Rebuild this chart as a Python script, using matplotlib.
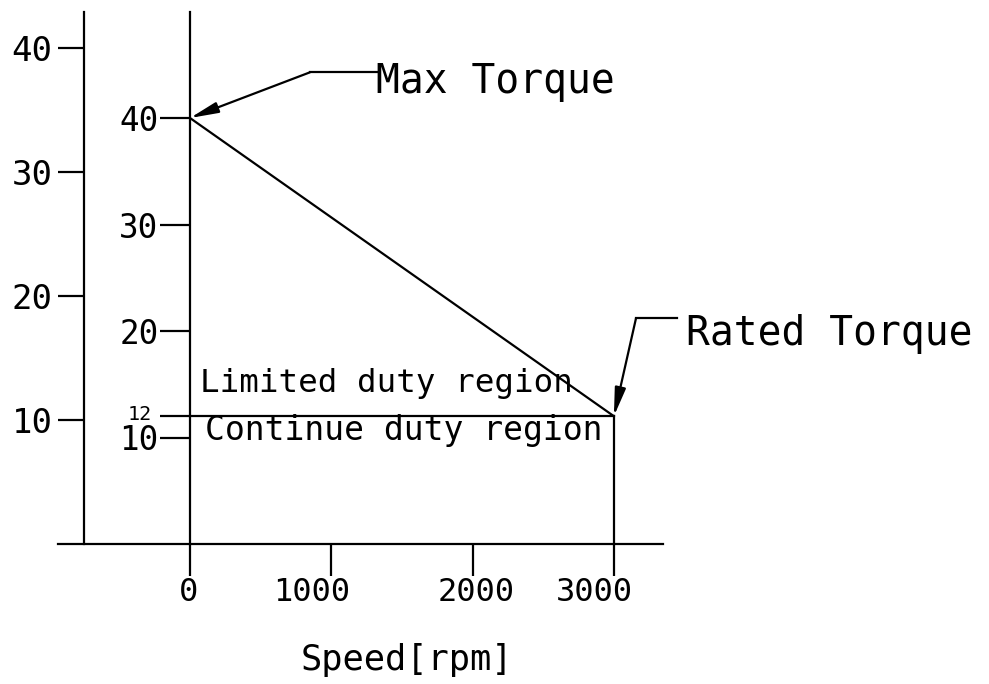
import matplotlib
matplotlib.use("Agg")
import matplotlib.pyplot as plt
from matplotlib.transforms import ScaledTranslation

# ---- data ----
speed_curve = [0, 3000]          # rpm
torque_curve = [40, 12]          # limited-duty boundary
rated_speed = 3000
rated_torque = 12
inner_yticks = [10, 12, 20, 30, 40]
inner_ylabels = ["10", "", "20", "30", "40"]
outer_yticks = [10, 20, 30, 40]
xticks = [0, 1000, 2000, 3000]
xlabels = ["0", "1000", "2000", "3000"]
outer_scale = 12.4 / 10.65       # outer axis unit expressed in inner units

FONT = "DejaVu Sans Mono"
LW = 1.6

fig = plt.figure(figsize=(9.89, 6.84), dpi=100)
ax = fig.add_axes([0, 0, 1, 1])
fig.patch.set_facecolor("white")
ax.set_facecolor("white")

# pixel-to-data mapping (1000 rpm = 141.3 px, 1 unit = 10.65 px)
px_x = 0.1413
px_y = 10.65
ax.set_xlim(-190 / px_x, (989 - 190) / px_x)
ax.set_ylim((544 - 684) / px_y, 544 / px_y)

# spines
for s in ("top", "right"):
    ax.spines[s].set_visible(False)
ax.spines["left"].set_position(("data", 0))
ax.spines["bottom"].set_position(("data", 0))
ax.spines["left"].set_bounds(0, (544 - 12) / px_y)
ax.spines["bottom"].set_bounds((58 - 190) / px_x, (663 - 190) / px_x)
for s in ("left", "bottom"):
    ax.spines[s].set_linewidth(LW)

# ticks
ax.set_yticks(inner_yticks, inner_ylabels)
ax.set_xticks(xticks, xlabels)
ax.tick_params(axis="y", direction="out", length=21.6, width=LW, pad=1,
               labelsize=23.5)
ax.tick_params(axis="x", direction="out", length=23, width=LW, pad=1,
               labelsize=23)
for lab in ax.get_yticklabels() + ax.get_xticklabels():
    lab.set_fontfamily(FONT)

x_shift_px = [-2, -20, 4, -20]
for lab, dx in zip(ax.get_xticklabels(), x_shift_px):
    lab.set_transform(lab.get_transform() + ScaledTranslation(dx / 100, 0, fig.dpi_scale_trans))

ax.annotate("12", xy=(0, 12), xytext=(-27.4, 1.5), textcoords="offset points",
            ha="right", va="center", fontsize=14.5, family=FONT)

# outer (secondary) torque axis
sec = ax.secondary_yaxis(84 / 989, functions=(lambda y: y / outer_scale,
                                              lambda v: v * outer_scale))
sec.set_yticks(outer_yticks)
sec.tick_params(direction="out", length=18.7, width=LW, pad=4, labelsize=24.5)
sec.spines["left"].set_linewidth(LW)
sec.spines["left"].set_bounds(0, (544.5 - 12) / 12.4)
for lab in sec.get_yticklabels():
    lab.set_fontfamily(FONT)

# curves
ax.plot(speed_curve, torque_curve, color="black", lw=LW, solid_capstyle="butt")
ax.plot([0, rated_speed], [rated_torque, rated_torque], color="black", lw=LW)
ax.plot([rated_speed, rated_speed], [0, rated_torque], color="black", lw=LW)

# region labels
ax.text((200 - 190) / px_x, (544 - 392) / px_y, "Limited duty region",
        family=FONT, fontsize=23.4, ha="left", va="baseline")
ax.text((205 - 190) / px_x, (544 - 440) / px_y, "Continue duty region",
        family=FONT, fontsize=23.8, ha="left", va="baseline")

arrow = dict(arrowstyle="-|>,head_length=1.7,head_width=0.33",
             color="black", lw=LW, shrinkA=0, shrinkB=0)

# Max Torque leader
knee1 = ((310 - 190) / px_x, (544 - 72.3) / px_y)
end1 = ((378 - 190) / px_x, knee1[1])
ax.plot([knee1[0], end1[0]], [knee1[1], knee1[1]], color="black", lw=LW)
ax.annotate("", xy=(speed_curve[0], torque_curve[0]), xytext=knee1,
            arrowprops=arrow)
ax.text((376 - 190) / px_x, (544 - 93) / px_y, "Max Torque", family=FONT,
        fontsize=28.5, ha="left", va="baseline")

# Rated Torque leader
knee2 = ((636 - 190) / px_x, (544 - 318.3) / px_y)
end2 = ((677 - 190) / px_x, knee2[1])
ax.plot([knee2[0], end2[0]], [knee2[1], knee2[1]], color="black", lw=LW)
ax.annotate("", xy=(rated_speed, rated_torque), xytext=knee2,
            arrowprops=arrow)
ax.text((686 - 190) / px_x, (544 - 345) / px_y, "Rated Torque", family=FONT,
        fontsize=28.5, ha="left", va="baseline")

# x-axis title
ax.text(407 / 989, 1 - 660 / 684, "Speed[rpm]", transform=ax.transAxes,
        family=FONT, fontsize=25.5, ha="center", va="center")

fig.savefig("out.png", dpi=100, facecolor="white")
